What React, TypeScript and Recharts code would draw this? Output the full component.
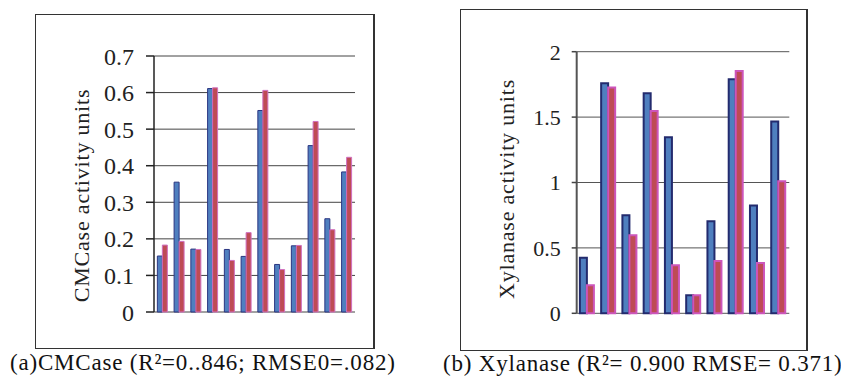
import React from 'react';
import { BarChart, Bar, XAxis, YAxis, CartesianGrid } from 'recharts';

const cmcaseCategories = ['1', '2', '3', '4', '5', '6', '7', '8', '9', '10', '11', '12'];
const cmcaseObserved = [0.153, 0.355, 0.172, 0.611, 0.171, 0.152, 0.551, 0.130, 0.181, 0.455, 0.255, 0.383];
const cmcasePredicted = [0.183, 0.193, 0.171, 0.613, 0.141, 0.217, 0.606, 0.116, 0.182, 0.521, 0.225, 0.423];
const cmcaseTicks = [0, 0.1, 0.2, 0.3, 0.4, 0.5, 0.6, 0.7];

const xylanaseCategories = ['1', '2', '3', '4', '5', '6', '7', '8', '9', '10'];
const xylanaseObserved = [0.425, 1.758, 0.749, 1.682, 1.345, 0.138, 0.703, 1.789, 0.825, 1.467];
const xylanasePredicted = [0.214, 1.727, 0.596, 1.546, 0.367, 0.138, 0.4, 1.852, 0.385, 1.009];
const xylanaseTicks = [0, 0.5, 1, 1.5, 2];

const FONT = '"Liberation Serif", "DejaVu Serif", serif';

const cmcaseData = cmcaseCategories.map((c, i) => ({ c, obs: cmcaseObserved[i], pred: cmcasePredicted[i] }));
const xylanaseData = xylanaseCategories.map((c, i) => ({ c, obs: xylanaseObserved[i], pred: xylanasePredicted[i] }));

const makeLabel = (text: string, dx: number, dy: number, size: number) => (p: any) => {
  const vb = p.viewBox || {};
  const cx = vb.x + dx;
  const cy = vb.y + vb.height / 2 + dy;
  return (
    <text
      x={cx}
      y={cy}
      transform={`rotate(-90, ${cx}, ${cy})`}
      textAnchor="middle"
      dominantBaseline="central"
      fontFamily={FONT}
      fontSize={size}
      letterSpacing={0.8}
      fill="#222"
    >
      {text}
    </text>
  );
};

const fmt = (v: number) => (v === 0 ? '0' : String(v));

export default function App() {
  return (
    <div style={{ position: 'absolute', left: 0, top: 0, width: 841, height: 379, background: '#fff', fontFamily: FONT }}>
      {/* frames */}
      <div style={{ position: 'absolute', left: 35, top: 14, width: 337, height: 333, border: '1.5px solid #333', borderRightWidth: 2 }} />
      <div style={{ position: 'absolute', left: 460, top: 9, width: 345, height: 340, border: '1.5px solid #333', borderRightWidth: 2 }} />

      <div style={{ position: 'absolute', left: 0, top: 0 }}>
        <BarChart
          width={420}
          height={379}
          data={cmcaseData}
          margin={{ top: 56, right: 65, bottom: 67, left: 74 }}
          barCategoryGap="20%"
          barGap={0}
        >
          <CartesianGrid vertical={false} stroke="#444" strokeWidth={1} />
          <XAxis dataKey="c" height={0} tick={false} tickLine={false} axisLine={{ stroke: '#444', strokeWidth: 1.5 }} />
          <XAxis xAxisId="top" dataKey="c" orientation="top" height={0} tick={false} tickLine={false} axisLine={{ stroke: '#aaa', strokeWidth: 1 }} />
          <YAxis
            width={80}
            domain={[0, 0.7]}
            ticks={cmcaseTicks}
            interval={0}
            tickFormatter={fmt}
            tickSize={8}
            tickMargin={12}
            tickLine={{ stroke: '#222', strokeWidth: 1.5 }}
            axisLine={{ stroke: '#222', strokeWidth: 1.5 }}
            tick={{ fontFamily: FONT, fontSize: 24, fill: '#222' }}
            label={{ content: makeLabel('CMCase activity units', 7, 11.5, 22) }}
          />
          <YAxis yAxisId="right" orientation="right" width={0} tick={false} tickLine={false} axisLine={{ stroke: '#aaa', strokeWidth: 1.5 }} />
          <Bar dataKey="obs" fill="#4F7FBF" stroke="#2A3580" strokeWidth={1} isAnimationActive={false} />
          <Bar dataKey="pred" fill="#BE4B55" stroke="#D070C0" strokeWidth={1} isAnimationActive={false} />
        </BarChart>
      </div>

      <div style={{ position: 'absolute', left: 420, top: 0 }}>
        <BarChart
          width={421}
          height={379}
          data={xylanaseData}
          margin={{ top: 51.7, right: 51.7, bottom: 65.7, left: 76.7 }}
          barCategoryGap="15%"
          barGap={0}
        >
          <CartesianGrid vertical={false} stroke="#555" strokeWidth={1} />
          <XAxis dataKey="c" height={0} tick={false} tickLine={false} axisLine={{ stroke: '#888', strokeWidth: 2 }} />
          <XAxis xAxisId="top" dataKey="c" orientation="top" height={0} tick={false} tickLine={false} axisLine={{ stroke: '#aaa', strokeWidth: 2 }} />
          <YAxis
            width={80}
            domain={[0, 2]}
            ticks={xylanaseTicks}
            interval={0}
            tickFormatter={fmt}
            tickSize={5}
            tickMargin={11}
            tickLine={{ stroke: '#444', strokeWidth: 1.5 }}
            axisLine={{ stroke: '#555', strokeWidth: 2 }}
            tick={{ fontFamily: FONT, fontSize: 22, fill: '#222' }}
            label={{ content: makeLabel('Xylanase activity units', 10, 6.5, 22) }}
          />
          <YAxis yAxisId="right" orientation="right" width={0} tick={false} tickLine={false} axisLine={{ stroke: '#aaa', strokeWidth: 2 }} />
          <Bar dataKey="obs" fill="#4F7FBF" stroke="#232B6E" strokeWidth={2} isAnimationActive={false} />
          <Bar dataKey="pred" fill="#BE4B55" stroke="#CC55BB" strokeWidth={2} isAnimationActive={false} />
        </BarChart>
      </div>

      <div style={{ position: 'absolute', left: 10, top: 350, fontSize: 23, letterSpacing: 0.8, color: '#111', whiteSpace: 'nowrap', lineHeight: '26px' }}>
        (a)CMCase (R²=0..846; RMSE0=.082)
      </div>
      <div style={{ position: 'absolute', left: 443, top: 351, fontSize: 23, letterSpacing: 0.8, color: '#111', whiteSpace: 'nowrap', lineHeight: '26px' }}>
        (b) Xylanase (R²= 0.900 RMSE= 0.371)
      </div>
    </div>
  );
}
